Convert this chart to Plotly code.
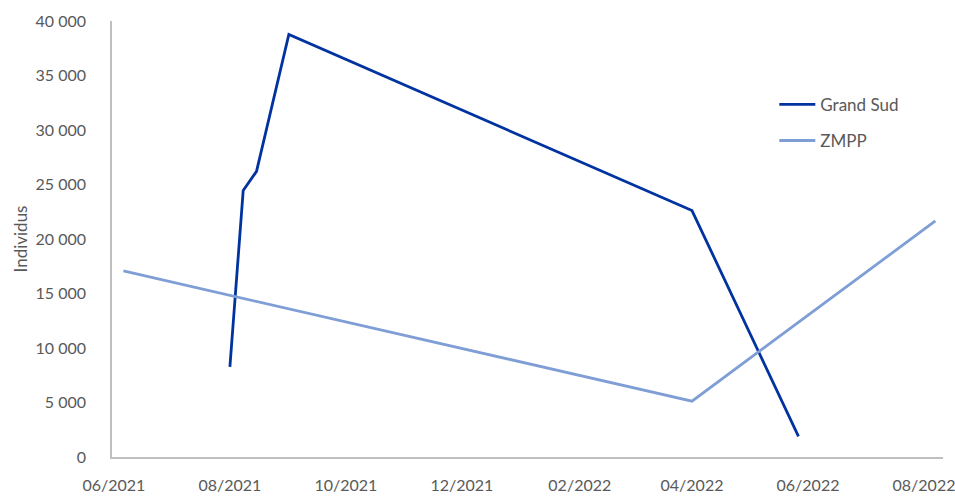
import pandas as pd
import plotly.graph_objs as go

# values
gs_dates = ['2021-08-01', '2021-08-08', '2021-08-15', '2021-09-01', '2022-04-01', '2022-05-27']
gs_values = [8270, 24450, 26200, 38760, 22610, 1900]

zmpp_dates = ['2021-06-06', '2022-04-01', '2022-08-07']
zmpp_values = [17070, 5120, 21660]

grey = '#595959'
font_family = 'Lato, "Open Sans", sans-serif'

fig = go.Figure()
fig.add_trace(
    go.Scatter(
        x=pd.to_datetime(gs_dates),
        y=gs_values,
        name='Grand Sud',
        mode='lines',
        line=dict(color='#0033A0', width=2.8),
        legendgroup='a'))
fig.add_trace(
    go.Scatter(
        x=pd.to_datetime(zmpp_dates),
        y=zmpp_values,
        name='ZMPP',
        mode='lines',
        line=dict(color='#7F9ED6', width=2.8),
        legendgroup='b'))

fig.update_layout(
    width=955, height=496,
    margin=dict(l=112, r=12, t=21, b=39, autoexpand=False),
    plot_bgcolor='white', paper_bgcolor='white',
    separators=', ',
    font=dict(family=font_family, size=16, color=grey),
    showlegend=True,
    legend=dict(
        x=0.797, y=0.849, xanchor='left', yanchor='top',
        traceorder='grouped', tracegroupgap=11, itemwidth=36,
        font=dict(size=17, color=grey),
        bgcolor='rgba(0,0,0,0)'),
    xaxis=dict(
        type='date', automargin=False,
        range=['2021-05-31', '2022-08-11'],
        tick0='2021-06-01', dtick='M2',
        tickformat='%m/%Y', ticklabeloverflow='allow',
        showgrid=False, zeroline=False,
        showline=True, linecolor='#BFBFBF', linewidth=1.5,
        ticks='outside', ticklen=13, tickcolor='rgba(0,0,0,0)'),
    yaxis=dict(
        range=[0, 40000], dtick=5000, automargin=False,
        tickformat=',d',
        showgrid=False, zeroline=False,
        showline=True, linecolor='#BFBFBF', linewidth=1.5,
        ticks='outside', ticklen=21, tickcolor='rgba(0,0,0,0)',
        title=dict(text='Individus', standoff=4, font=dict(size=17, color=grey))),
)

# drop the default body margin so the figure fills the window exactly
fig.write_html('out.html', config={'displayModeBar': False},
               post_script="document.body.style.margin='0';")
